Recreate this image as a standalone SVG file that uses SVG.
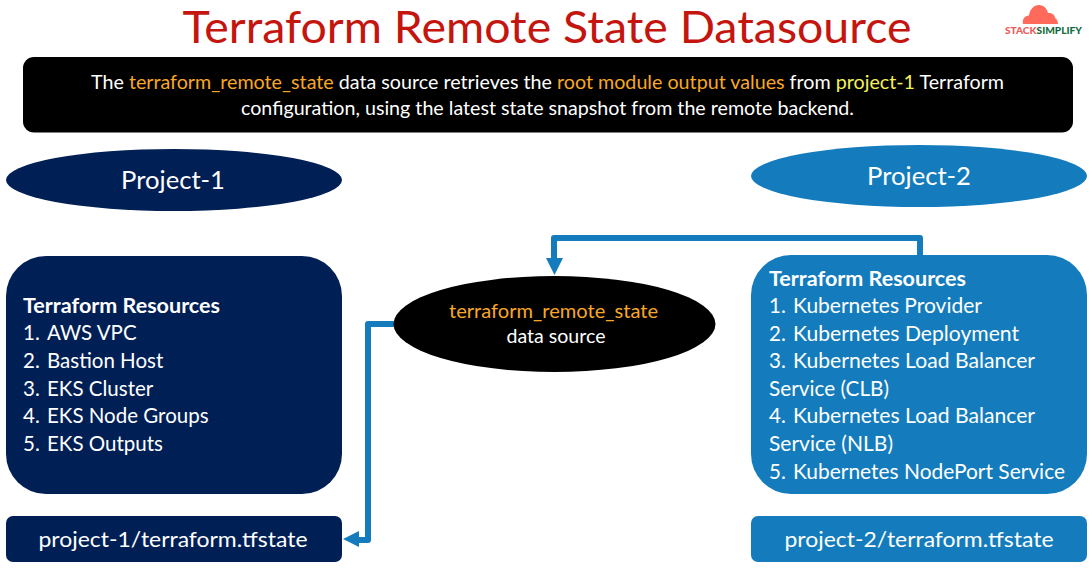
<svg xmlns="http://www.w3.org/2000/svg" width="1092" height="575" viewBox="0 0 1092 575">
<style>
text{font-family:Lato,"Open Sans","Liberation Sans",sans-serif;fill:#fff}
.o{fill:#f9a825}.y{fill:#f4f25a}
.res{font-size:20.5px}
.b{font-weight:700}
.link{fill:none;stroke:#147cbd;stroke-width:6;stroke-linejoin:round}
.head{fill:#147cbd}
.navy{fill:#002055}.blue{fill:#147cbd}
</style>
<rect width="1092" height="575" fill="#fff"/>
<g id="title"><text x="547" y="43" text-anchor="middle" font-size="43.500" style="fill:#c4150f" textLength="729" lengthAdjust="spacingAndGlyphs">Terraform Remote State Datasource</text></g>
<g id="logo">
<path d="M1023 24 C1022 19 1025 15.500 1029 15.500 C1030 8 1035 5 1039 5 C1044 5 1047 9 1048 13 C1052 12.500 1055 15 1055 18 C1057 19 1058 22 1058 24 Z" fill="#ff6a5a"/>
<text x="1005" y="34" font-size="10" font-weight="900" textLength="77" lengthAdjust="spacingAndGlyphs" style="fill:#ee5a5c">STACK<tspan style="fill:#0f6b3c">SIMPLIFY</tspan></text>
</g>
<g id="banner">
<rect x="23" y="57" width="1050" height="75.500" rx="11" fill="#000"/>
<text x="91" y="89" style="font-size:19.200px" textLength="913" lengthAdjust="spacingAndGlyphs">The <tspan class="o">terraform_remote_state</tspan> data source retrieves the <tspan class="o">root module output values</tspan> from <tspan class="y">project-1</tspan> Terraform</text>
<text x="241" y="115" style="font-size:19.200px" textLength="613" lengthAdjust="spacingAndGlyphs">configuration, using the latest state snapshot from the remote backend.</text>
</g>
<g id="project-1"><ellipse cx="174" cy="180" rx="168" ry="31" class="navy"/><text x="173" y="189" text-anchor="middle" style="font-size:25px" textLength="104" lengthAdjust="spacingAndGlyphs">Project-1</text></g>
<g id="project-2"><ellipse cx="919" cy="176" rx="168" ry="31" class="blue"/><text x="919" y="185" text-anchor="middle" style="font-size:25px" textLength="104" lengthAdjust="spacingAndGlyphs">Project-2</text></g>
<g id="connectors">
<path class="link" d="M920 256 V238 H554 V262"/>
<polygon class="head" points="546,258 563,258 554.500,275"/>
<path class="link" d="M394 324 H368 V540 H358"/>
<polygon class="head" points="343,539 359,531 359,547"/>
</g>
<g id="resources-1">
<rect x="6" y="256" width="336" height="238" rx="40" class="navy"/>
<text x="23" y="313" class="res b" textLength="197" lengthAdjust="spacingAndGlyphs">Terraform Resources</text>
<text x="23" y="340" class="res">1.<tspan x="47">AWS VPC</tspan></text>
<text x="23" y="368" class="res">2.<tspan x="47">Bastion Host</tspan></text>
<text x="23" y="396" class="res">3.<tspan x="47">EKS Cluster</tspan></text>
<text x="23" y="423" class="res">4.<tspan x="47">EKS Node Groups</tspan></text>
<text x="23" y="451" class="res">5.<tspan x="47">EKS Outputs</tspan></text>
</g>
<g id="resources-2">
<rect x="751" y="255" width="336" height="239" rx="40" class="blue"/>
<text x="769" y="286" class="res b" textLength="197" lengthAdjust="spacingAndGlyphs">Terraform Resources</text>
<text x="769" y="313" class="res">1.<tspan x="793" textLength="189" lengthAdjust="spacingAndGlyphs">Kubernetes Provider</tspan></text>
<text x="769" y="341" class="res">2.<tspan x="793" textLength="226" lengthAdjust="spacingAndGlyphs">Kubernetes Deployment</tspan></text>
<text x="769" y="368" class="res">3.<tspan x="793" textLength="242" lengthAdjust="spacingAndGlyphs">Kubernetes Load Balancer</tspan></text>
<text x="769" y="396" class="res" textLength="120" lengthAdjust="spacingAndGlyphs">Service (CLB)</text>
<text x="769" y="423" class="res">4.<tspan x="793" textLength="242" lengthAdjust="spacingAndGlyphs">Kubernetes Load Balancer</tspan></text>
<text x="769" y="451" class="res" textLength="124" lengthAdjust="spacingAndGlyphs">Service (NLB)</text>
<text x="769" y="479" class="res">5.<tspan x="793" textLength="272" lengthAdjust="spacingAndGlyphs">Kubernetes NodePort Service</tspan></text>
</g>
<g id="state-1"><rect x="6" y="516" width="336" height="46" rx="7" class="navy"/><text x="173" y="547" text-anchor="middle" style="font-size:22px" textLength="269" lengthAdjust="spacingAndGlyphs">project-1/terraform.tfstate</text></g>
<g id="state-2"><rect x="751" y="516" width="336" height="46" rx="7" class="blue"/><text x="919" y="547" text-anchor="middle" style="font-size:22px" textLength="269" lengthAdjust="spacingAndGlyphs">project-2/terraform.tfstate</text></g>
<g id="data-source">
<ellipse cx="554.500" cy="324" rx="161" ry="48" fill="#000"/>
<text x="553.500" y="318" text-anchor="middle" class="o" style="font-size:18.700px" textLength="209" lengthAdjust="spacingAndGlyphs">terraform_remote_state</text>
<text x="556" y="343" text-anchor="middle" style="font-size:18.700px" textLength="99" lengthAdjust="spacingAndGlyphs">data source</text>
</g>
</svg>
